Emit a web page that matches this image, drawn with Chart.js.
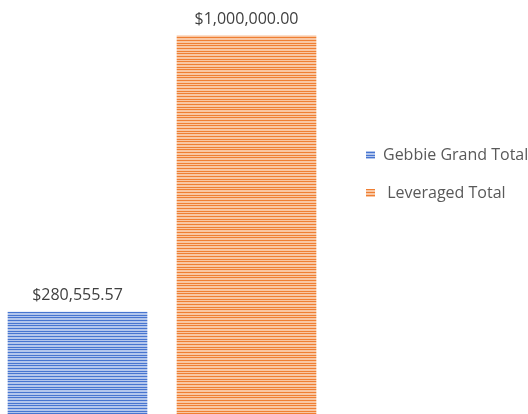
<!DOCTYPE html>
<html lang="en">
<head>
<meta charset="UTF-8">
<title>Gebbie vs Leveraged</title>
<script src="https://cdn.jsdelivr.net/npm/chart.js"></script>
<style>
    html, body { margin: 0; padding: 0; background: #fff; overflow: hidden; }
    #wrap { position: absolute; left: 0; top: 0; width: 528px; height: 414px; }
</style>
</head>
<body>
<div id="wrap"><canvas id="myBarChart"></canvas></div>
<script>
// chart values
var seriesNames = ['Gebbie Grand Total', ' Leveraged Total'];
var seriesValues = [280555.57, 1000000];
var seriesColors = ['#4775d0', '#ef7f33'];
var seriesTints = ['#b3c6ec', '#f9c7a3'];
var categoryLabels = ['Gebbie', 'Leveraged'];

// horizontal stripe fill like the Excel pattern
function stripes(dark, light) {
    var c = document.createElement('canvas');
    c.width = 4;
    c.height = 8;
    var g = c.getContext('2d');
    g.fillStyle = light;
    g.fillRect(0, 0, 4, 8);
    g.fillStyle = dark;
    [0, 3, 5].forEach(function (r) { g.fillRect(0, r, 4, 1); });
    return g.createPattern(c, 'repeat');
}

function money(v) {
    return '$' + v.toLocaleString('en-US', { minimumFractionDigits: 2, maximumFractionDigits: 2 });
}

// each series sits in its own category slot
var datasets = seriesNames.map(function (name, i) {
    var data = categoryLabels.map(function (c, j) { return j === i ? seriesValues[i] : null; });
    return {
        label: name,
        data: data,
        backgroundColor: stripes(seriesColors[i], seriesTints[i]),
        borderWidth: 0,
        barThickness: 139,
        skipNull: true,
        clip: false
    };
});

// value labels above each bar
var valueLabels = {
    id: 'valueLabels',
    afterDatasetsDraw: function (chart) {
        var ctx = chart.ctx;
        ctx.save();
        ctx.font = '16px "Open Sans"';
        ctx.fillStyle = '#404040';
        ctx.textAlign = 'center';
        ctx.textBaseline = 'middle';
        chart.data.datasets.forEach(function (ds, i) {
            chart.getDatasetMeta(i).data.forEach(function (bar, j) {
                if (ds.data[j] == null) return;
                ctx.fillText(money(ds.data[j]), bar.x, bar.y - 17);
            });
        });
        ctx.restore();
    }
};

var ctxBar = document.getElementById('myBarChart').getContext('2d');
var myBarChart = new Chart(ctxBar, {
    type: 'bar',
    data: {
        labels: categoryLabels,
        datasets: datasets
    },
    options: {
        responsive: true,
        maintainAspectRatio: false,
        animation: false,
        layout: { padding: { top: 36, bottom: 0, left: 77.5, right: 0 } },
        scales: {
            x: {
                display: false,
                offset: false,
                grid: { display: false }
            },
            y: {
                display: false,
                position: 'right',
                min: 15000,
                max: 1000000,
                // keeps a gap between the bars and the legend
                afterFit: function (scale) { scale.width = 97.5; }
            }
        },
        plugins: {
            tooltip: { enabled: false },
            legend: {
                position: 'right',
                align: 'start',
                maxWidth: 184,
                title: {
                    display: true,
                    text: '',
                    font: { size: 10, lineHeight: 1 },
                    padding: { top: 79, bottom: 0 }
                },
                labels: {
                    boxWidth: 9,
                    boxHeight: 8,
                    padding: 22,
                    color: '#595959',
                    font: { family: 'Open Sans', size: 16 }
                }
            }
        }
    },
    plugins: [valueLabels]
});
</script>
</body>
</html>
